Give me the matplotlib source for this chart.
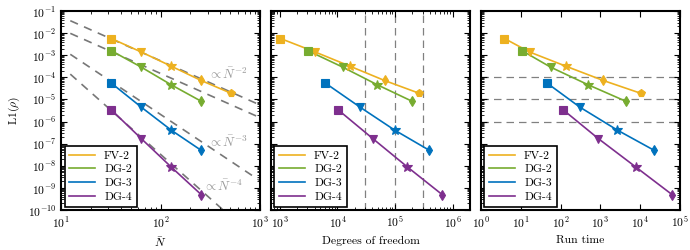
import matplotlib
matplotlib.use('Agg')
import matplotlib.pyplot as plt
import numpy as np

plt.rcParams['font.family'] = 'serif'
plt.rcParams['font.serif'] = ['cmr10']
plt.rcParams['mathtext.fontset'] = 'cm'
plt.rcParams['axes.formatter.use_mathtext'] = True
plt.rcParams['font.size'] = 8.4

names = ['FV-2', 'DG-2', 'DG-3', 'DG-4']
colors = ['#EDB120', '#77AC30', '#0072BD', '#7E2F8E']
markers = ['s', 'v', '*', 'd', 'p']

n_cells = [
    [32, 64, 128, 256, 512],
    [32, 64, 128, 256],
    [32, 64, 128, 256],
    [32, 64, 128, 256],
]
dofs = [
    [1024, 4096, 16384, 65536, 262144],
    [3072, 12288, 49152, 196608],
    [6144, 24576, 98304, 393216],
    [10240, 40960, 163840, 655360],
]
errors = [
    [5.7e-3, 1.4e-3, 3.2e-4, 7.2e-5, 1.9e-5],
    [1.6e-3, 2.9e-4, 4.6e-5, 8.3e-6],
    [5.5e-5, 4.5e-6, 4.1e-7, 5.0e-8],
    [3.4e-6, 1.7e-7, 8.8e-9, 5.0e-10],
]
run_times = [
    [3.9, 16.6, 135, 1180, 10300],
    [10.8, 56, 493, 4330],
    [45.6, 304, 2670, 22400],
    [116, 885, 7750, 63000],
]

# reference slopes: (constant, order)
ref_lines = [(5.6, 2), (1.5, 2), (2.1, 3), (3.3, 4)]
ref_n = np.array([12.4, 2000.0])
dof_lines = [3e4, 1e5, 3e5]
time_lines = [1e-4, 1e-5, 1e-6]

fig, axes = plt.subplots(1, 3, figsize=(6.9, 2.5), dpi=100, sharey=True)
fig.subplots_adjust(left=61 / 690, right=680 / 690, top=1 - 11 / 250,
                    bottom=1 - 210 / 250, wspace=0.055)

ax1, ax2, ax3 = axes

for c, p in ref_lines:
    ax1.plot(ref_n, c * ref_n ** (-p), color='#777777', ls=(0, (5, 4)), lw=1.2, zorder=1)
for xv in dof_lines:
    ax2.axvline(xv, color='#808080', ls=(0, (6, 4)), lw=0.9, zorder=1)
for yv in time_lines:
    ax3.axhline(yv, color='#808080', ls=(0, (6, 4)), lw=0.9, zorder=1)

for ax, xs in zip(axes, [n_cells, dofs, run_times]):
    for i in range(4):
        ax.plot(xs[i], errors[i], color=colors[i], lw=1.2, label=names[i], zorder=3)
        for j in range(len(xs[i])):
            ax.plot(xs[i][j], errors[i][j], marker=markers[j], color=colors[i],
                    ms=5.5 if markers[j] != '*' else 7.5, mew=0.8, ls='none', zorder=4)

ax1.text(300, 1.3e-4, r'$\propto \bar{N}^{-2}$', color='#999999', fontsize=9.5, va='center')
ax1.text(300, 1.1e-7, r'$\propto \bar{N}^{-3}$', color='#999999', fontsize=9.5, va='center')
ax1.text(268, 1.2e-9, r'$\propto \bar{N}^{-4}$', color='#999999', fontsize=9.5, va='center')

for ax in axes:
    ax.set_xscale('log')
    ax.set_yscale('log')
    ax.tick_params(which='both', direction='in', top=True, right=True)
    ax.tick_params(which='major', length=4, width=0.8)
    ax.tick_params(which='minor', length=2, width=0.6)
    for s in ax.spines.values():
        s.set_linewidth(1.5)
    ax.yaxis.set_major_locator(matplotlib.ticker.LogLocator(base=10, numticks=20))
    ax.yaxis.set_minor_locator(matplotlib.ticker.LogLocator(base=10, subs=np.arange(2, 10), numticks=20))
    ax.yaxis.set_minor_formatter(matplotlib.ticker.NullFormatter())
    leg = ax.legend(loc='lower left', fancybox=False, edgecolor='black', framealpha=1,
                    handlelength=2.2, borderaxespad=0.3, labelspacing=0.3)
    leg.get_frame().set_linewidth(1.2)

ax1.set_ylim(1e-10, 1e-1)
ax1.set_xlim(10, 1000)
ax2.set_xlim(700, 2e6)
ax3.set_xlim(1, 1e5)
ax3.xaxis.set_major_locator(matplotlib.ticker.LogLocator(base=10, numticks=10))

ax1.set_ylabel(r'L1($\rho$)')
ax1.set_xlabel(r'$\bar{N}$')
ax2.set_xlabel('Degrees of freedom')
ax3.set_xlabel('Run time')

plt.savefig('out.png', dpi=100)
